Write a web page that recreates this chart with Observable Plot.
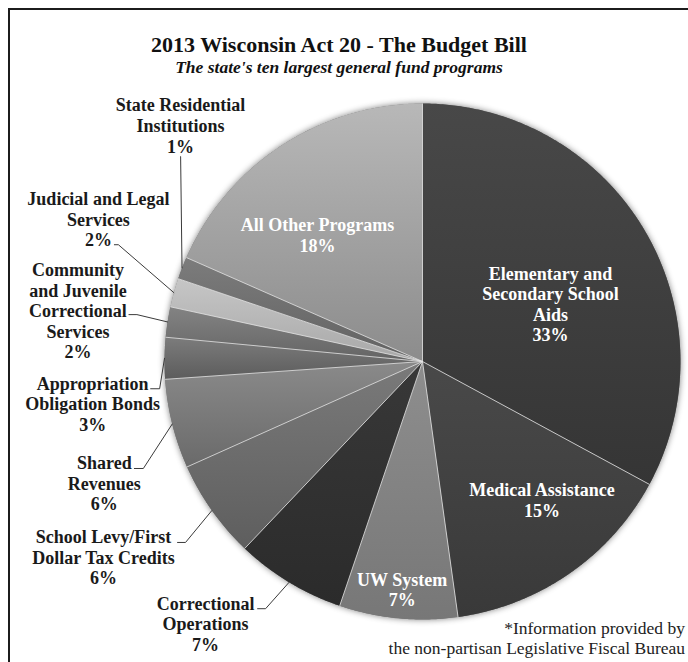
<!DOCTYPE html>
<html>
<head>
<meta charset="utf-8">
<script src="https://cdn.jsdelivr.net/npm/d3@7"></script>
<script src="https://cdn.jsdelivr.net/npm/@observablehq/plot@0.6"></script>
<style>
  html, body { margin: 0; padding: 0; background: #fff; width: 688px; height: 662px; overflow: hidden; position: relative; }
  #frame { position: absolute; left: 8px; top: 8px; width: 760px; height: 760px; border-left: 2px solid #1c1c1c; border-top: 2px solid #1c1c1c; }
  #title { position: absolute; left: 0; width: 678px; top: 33px; text-align: center; font: bold 22px "Liberation Serif", serif; line-height: 24px; color: #111; white-space: nowrap; }
  #subtitle { position: absolute; left: 0; width: 678px; top: 57px; text-align: center; font: italic bold 17.5px "Liberation Serif", serif; line-height: 20px; color: #111; white-space: nowrap; }
  #chart { position: absolute; left: 0; top: 80px; }
  .note { position: absolute; right: 3px; text-align: right; font: 17.5px "Liberation Serif", serif; line-height: 18px; color: #222; white-space: nowrap; }
</style>
</head>
<body>
<div id="frame"></div>
<div id="title">2013 Wisconsin Act 20 - The Budget Bill</div>
<div id="subtitle">The state's ten largest general fund programs</div>
<div id="chart"></div>
<div class="note" style="top:619px">*Information provided by</div>
<div class="note" style="top:639px">the non-partisan Legislative Fiscal Bureau</div>
<script>
// ---------------- data ----------------
const programs = [
  "Elementary and Secondary School Aids",
  "Medical Assistance",
  "UW System",
  "Correctional Operations",
  "School Levy/First Dollar Tax Credits",
  "Shared Revenues",
  "Appropriation Obligation Bonds",
  "Community and Juvenile Correctional Services",
  "Judicial and Legal Services",
  "State Residential Institutions",
  "All Other Programs"
];
const labelLines = [
  "Elementary and\nSecondary School\nAids",
  "Medical Assistance",
  "UW System",
  "Correctional\nOperations",
  "School Levy/First\nDollar Tax Credits",
  "Shared\nRevenues",
  "Appropriation\nObligation Bonds",
  "Community\nand Juvenile\nCorrectional\nServices",
  "Judicial and Legal\nServices",
  "State Residential\nInstitutions",
  "All Other Programs"
];
const shares = [32.9, 14.9, 7.4, 6.9, 6.2, 5.6, 2.6, 1.9, 1.8, 1.4, 18.4];

// ---------------- layout & style ----------------
const W = 688, H = 582, CX = 422, CY = 281, R = 258;
const gradStops = [
  ["#484848", "#353535"],
  ["#494949", "#393939"],
  ["#8e8e8e", "#777777"],
  ["#383838", "#2b2b2b"],
  ["#7a7a7a", "#5e5e5e"],
  ["#8a8a8a", "#6a6a6a"],
  ["#7c7c7c", "#5c5c5c"],
  ["#838383", "#646464"],
  ["#c6c6c6", "#a8a8a8"],
  ["#7c7c7c", "#626262"],
  ["#b8b8b8", "#8c8c8c"]
];
// label placement: polar (deg clockwise from 12 o'clock, radius units); leader [dx, dy, tick] in px
const labelPlace = [
  {inside: true, angle: 65.8, r: 0.544},
  {inside: true, angle: 139.2, r: 0.709},
  {inside: true, angle: 185.1, r: 0.887},
  {inside: false, angle: 219.6, r: 1.319, lead: [52, -15, 8]},
  {inside: false, angle: 238.5, r: 1.450, lead: [74, -14.5, 8]},
  {inside: false, angle: 249.1, r: 1.320, lead: [30, -14.5, 9]},
  {inside: false, angle: 262.7, r: 1.289, lead: [58, -15, 9]},
  {inside: false, angle: 278.4, r: 1.350, lead: [51, 4, 8]},
  {inside: false, angle: 293.7, r: 1.372, lead: [16, 25.5, 4]},
  {inside: false, angle: 314.3, r: 1.310, lead: [0, 31, 0]},
  {inside: true, angle: 320.3, r: 0.637}
];

// ---------------- geometry from data ----------------
const rows = programs.map((name, i) => ({name, i, value: shares[i], text: labelLines[i] + "\n" + Math.round(shares[i]) + "%"}));
const arcs = d3.pie().sort(null).value(d => d.value).startAngle(0).endAngle(2 * Math.PI)(rows);

const slicePolys = arcs.map(a => {
  const pts = [{x: 0, y: 0}];
  const n = Math.max(2, Math.ceil((a.endAngle - a.startAngle) / (Math.PI / 360)) + 1);
  for (let k = 0; k < n; k++) {
    const t = a.startAngle + (a.endAngle - a.startAngle) * k / (n - 1);
    pts.push({x: Math.sin(t), y: Math.cos(t)});
  }
  return pts;
});
const circle = d3.range(0, 721).map(k => ({x: Math.sin(k * Math.PI / 360), y: Math.cos(k * Math.PI / 360)}));

const labels = arcs.map((a, i) => {
  const p = labelPlace[i];
  const t = p.angle * Math.PI / 180;
  return {...a.data, inside: p.inside, lx: p.r * Math.sin(t), ly: p.r * Math.cos(t), mid: (a.startAngle + a.endAngle) / 2, lead: p.lead};
});

const leaders = [];
labels.filter(d => !d.inside).forEach(d => {
  const [dx, dy, tick] = d.lead;
  const sx = d.lx + dx / R, sy = d.ly - dy / R;
  leaders.push({name: d.name, x: sx, y: sy});
  leaders.push({name: d.name, x: sx + tick / R, y: sy});
  leaders.push({name: d.name, x: Math.sin(d.mid), y: Math.cos(d.mid)});
});

const font = {fontFamily: "Liberation Serif", fontWeight: "bold", fontSize: 18, lineHeight: 1.14};

const marks = [
  Plot.line(circle, {x: "x", y: "y", fill: "#777", stroke: "none", curve: "linear-closed"}),
  ...slicePolys.map((pts, i) => Plot.line(pts, {x: "x", y: "y", fill: `url(#slice-grad-${i})`, stroke: "none", curve: "linear-closed"})),
  Plot.link(arcs, {x1: () => 0, y1: () => 0, x2: d => Math.sin(d.startAngle), y2: d => Math.cos(d.startAngle), stroke: "#e4e4e4", strokeWidth: 0.8}),
  Plot.line(leaders, {x: "x", y: "y", z: "name", stroke: "#3a3a3a", strokeWidth: 1, curve: "linear"}),
  Plot.text(labels.filter(d => d.inside), {x: "lx", y: "ly", text: "text", fill: "white", ...font}),
  Plot.text(labels.filter(d => !d.inside), {x: "lx", y: "ly", text: "text", fill: "#1a1a1a", ...font})
];

const svg = Plot.plot({
  width: W, height: H,
  margin: 0,
  x: {domain: [-CX / R, (W - CX) / R], axis: null},
  y: {domain: [-(H - CY) / R, CY / R], axis: null},
  style: {background: "transparent", overflow: "visible"},
  marks
});

// gradients + shadow
const defs = d3.select(svg).insert("defs", ":first-child");
gradStops.forEach((s, i) => {
  const g = defs.append("linearGradient").attr("id", `slice-grad-${i}`).attr("x1", 0).attr("y1", 0).attr("x2", 0).attr("y2", 1);
  g.append("stop").attr("offset", "0%").attr("stop-color", s[0]);
  g.append("stop").attr("offset", "100%").attr("stop-color", s[1]);
});
const f = defs.append("filter").attr("id", "pie-shadow").attr("x", "-20%").attr("y", "-20%").attr("width", "140%").attr("height", "140%");
f.append("feGaussianBlur").attr("in", "SourceAlpha").attr("stdDeviation", 3).attr("result", "blur");
f.append("feFlood").attr("flood-color", "#000").attr("flood-opacity", 0.5);
f.append("feComposite").attr("in2", "blur").attr("operator", "in").attr("result", "shadow");
const m = f.append("feMerge");
m.append("feMergeNode").attr("in", "shadow");
m.append("feMergeNode").attr("in", "SourceGraphic");
const lineGroups = svg.querySelectorAll('g[aria-label="line"]');
if (lineGroups.length) lineGroups[0].setAttribute("filter", "url(#pie-shadow)");

document.getElementById("chart").appendChild(svg);
</script>
</body>
</html>
